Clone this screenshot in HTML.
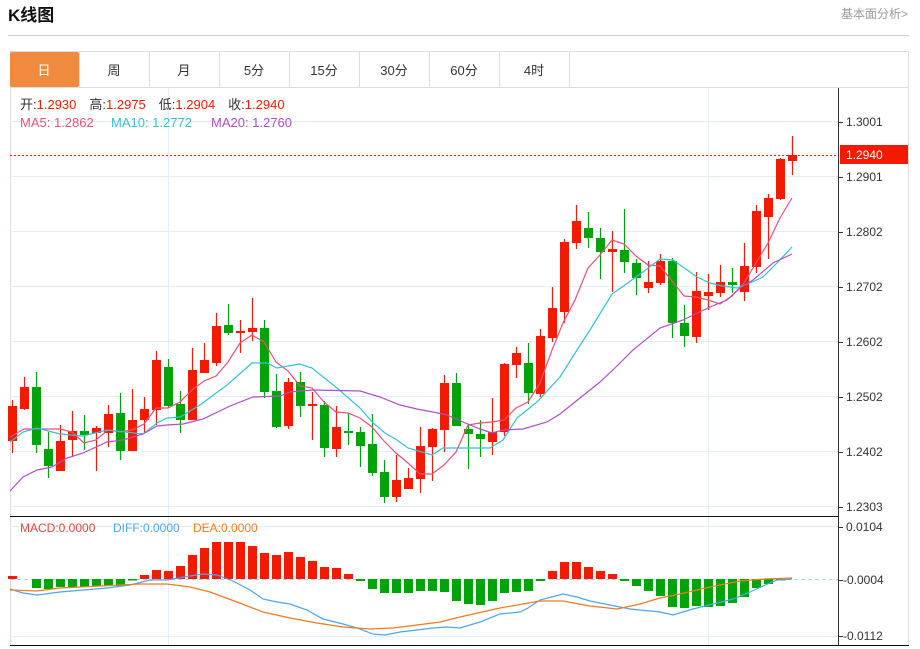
<!DOCTYPE html>
<html><head><meta charset="utf-8"><style>
body{margin:0;background:#fff;width:920px;height:649px;overflow:hidden;font-family:"Liberation Sans","Noto Sans CJK SC",sans-serif}
</style></head><body>
<svg id="s" width="920" height="649" xmlns="http://www.w3.org/2000/svg" style="position:absolute;left:0;top:0" font-family="Liberation Sans, Noto Sans CJK SC, sans-serif">
<text x="8" y="21" font-size="17" font-weight="bold" fill="#111">K线图</text>
<text x="841" y="18" font-size="12" fill="#999">基本面分析&gt;</text>
<line x1="8" y1="35.5" x2="909" y2="35.5" stroke="#ccc"/>
<rect x="10.5" y="51.5" width="898" height="594" fill="none" stroke="#ddd"/>
<line x1="10" y1="87.5" x2="909" y2="87.5" stroke="#ddd"/>
<rect x="10" y="52" width="69" height="35" fill="#f08a3e" rx="2"/>
<g stroke="#ddd"><line x1="79.5" y1="52" x2="79.5" y2="87"/><line x1="149.5" y1="52" x2="149.5" y2="87"/><line x1="219.5" y1="52" x2="219.5" y2="87"/><line x1="289.5" y1="52" x2="289.5" y2="87"/><line x1="359.5" y1="52" x2="359.5" y2="87"/><line x1="429.5" y1="52" x2="429.5" y2="87"/><line x1="499.5" y1="52" x2="499.5" y2="87"/><line x1="569.5" y1="52" x2="569.5" y2="87"/></g>
<g font-size="13" fill="#333" text-anchor="middle"><text x="44" y="75" fill="#fff">日</text><text x="114" y="75">周</text><text x="184" y="75">月</text><text x="254" y="75">5分</text><text x="324" y="75">15分</text><text x="394" y="75">30分</text><text x="464" y="75">60分</text><text x="534" y="75">4时</text></g>
<g id="grid" stroke="#e3edf4"></g>
<g id="c"></g>
<line x1="10" y1="155.5" x2="838" y2="155.5" stroke="#f21a00" stroke-dasharray="2,2"/>
<line x1="838.5" y1="88" x2="838.5" y2="646" stroke="#333"/>
<line x1="10" y1="516.5" x2="838" y2="516.5" stroke="#111"/>
<line x1="10" y1="645.5" x2="909" y2="645.5" stroke="#111"/>
<rect x="840" y="145" width="68" height="19" fill="#f21a00"/>
<g font-size="12" fill="#333" id="ax"></g>
<text x="846" y="159" font-size="12" fill="#fff">1.2940</text>
<g font-size="13"><text x="20" y="109" fill="#333">开:<tspan fill="#f21a00">1.2930</tspan><tspan dx="13">高:</tspan><tspan fill="#f21a00">1.2975</tspan><tspan dx="13">低:</tspan><tspan fill="#f21a00">1.2904</tspan><tspan dx="13">收:</tspan><tspan fill="#f21a00">1.2940</tspan></text>
<text x="20" y="127" fill="#ec4f7c">MA5: 1.2862</text><text x="111" y="127" fill="#34c0d8">MA10: 1.2772</text><text x="211" y="127" fill="#b14fc4">MA20: 1.2760</text></g>
<g font-size="12"><text x="20" y="532" fill="#e8433c">MACD:0.0000</text><text x="113" y="532" fill="#4aa6f0">DIFF:0.0000</text><text x="193" y="532" fill="#f07a20">DEA:0.0000</text></g>
</svg>
<script>
var NS="http://www.w3.org/2000/svg",s=document.getElementById('s');
function el(p,t,a){var e=document.createElementNS(NS,t);for(var k in a)e.setAttribute(k,a[k]);p.appendChild(e);return e;}
var g=document.getElementById('grid');
[121.5,176.5,231.5,286.5,341.5,396.5,451.5,506.5,526.5,636.5].forEach(function(y){el(g,'line',{x1:10,x2:838,y1:y,y2:y});});
[168.5,708.5].forEach(function(x){el(g,'line',{x1:x,x2:x,y1:88,y2:645});});
el(g,'line',{x1:10,x2:838,y1:579.5,y2:579.5,stroke:'#a9d8ee','stroke-dasharray':'4,3'});
var ax=document.getElementById('ax');
[[122,'1.3001'],[177,'1.2901'],[232,'1.2802'],[287,'1.2702'],[342,'1.2602'],[397,'1.2502'],[452,'1.2402'],[507,'1.2303'],[527,'0.0104'],[580,'-0.0004'],[636,'-0.0112']].forEach(function(a){
 el(ax,'line',{x1:838,x2:843,y1:a[0]+.5,y2:a[0]+.5,stroke:'#333'});var t=el(ax,'text',{x:a[1][0]=='-'?843:846,y:a[0]+4});t.textContent=a[1];});
var C=document.getElementById('c');
var K=[[441,406,400,453],[409,387,377,410],[387,445,372,453],[449,466,432,478],[471,441,425,471],[440,431,411,457],[431,435,415,450],[433,428,426,471],[433,414,405,447],[413,451,393,460],[451,420,389,451],[420,409,397,433],[410,360,351,425],[367,406,359,408],[404,420,391,433],[420,370,348,420],[373,360,343,373],[363,326,313,366],[325,333,304,335],[333,331,320,353],[332,328,298,341],[328,392,320,398],[391,427,374,428],[426,382,378,429],[382,406,372,417],[406,404,392,440],[405,448,401,457],[449,427,406,457],[431,433,413,445],[432,446,427,467],[444,473,414,476],[472,497,460,503],[497,480,455,502],[489,478,468,489],[479,446,427,493],[447,429,428,481],[430,383,375,452],[383,426,373,426],[429,434,425,469],[434,439,420,457],[442,432,398,455],[432,364,363,436],[365,353,347,378],[363,393,343,404],[394,336,329,397],[338,308,287,342],[312,242,239,323],[243,221,205,249],[228,238,212,248],[238,252,228,279],[252,249,231,292],[250,262,209,273],[263,278,259,295],[288,282,261,293],[283,261,254,285],[261,323,258,338],[323,336,305,347],[337,291,272,343],[296,292,274,310],[293,282,265,297],[282,285,268,293],[292,266,243,301],[267,211,205,273],[217,198,194,259],[199,159,158,200],[161,155,136,175]];
var M=[576,579,588,589,587,587,587,586,586,586,580.5,575,570,571,566,555,548,542,542,542,546,553,555,552,557,561,567,568,574,581,589,593,593,593,591,591,592,601,604,605,601,593,592,591,581,571,562,562,567,571,574,581,586,591,596,607,608,606,607,606,603,597,588,584,580.5,579];
K.forEach(function(k,i){var x=12.5+12*i,up=k[1]<=k[0],col=up?'#f21a00':'#00a40a';
 el(C,'line',{x1:x,x2:x,y1:k[2],y2:k[3],stroke:col,'stroke-width':1.2});
 var t=Math.min(k[0],k[1]),h=Math.max(2,Math.abs(k[0]-k[1]));el(C,'rect',{x:x-4.5,y:t,width:9,height:h,fill:col});
 var m=M[i];if(Math.abs(m-579)>0.4){var mc=m<579?'#f21a00':'#00a40a';el(C,'rect',{x:x-4.5,y:Math.min(m,579),width:9,height:Math.abs(m-579),fill:mc});}
});
function pl(pts,c){el(C,'polyline',{points:pts,fill:'none',stroke:c,'stroke-width':1.2});}
pl("10,437 24,429 60,429 72,432 84,443 96,440 108,430 120,432 132,430 144,424 156,408 168,408 180,402 192,390 204,381 216,376 228,362 240,343 252,335 264,342 276,362 288,371 300,386 312,388 324,402 336,412 348,413 360,418 372,427 384,441 396,453 408,463 420,474 432,474 444,465 456,452 468,425 480,423 492,422 504,420 516,408 528,402 540,383 552,350 563,323 575,300 588,268 600,255 612,240 624,244 636,256 648,265 660,266 672,281 684,296 696,297 708,300 720,304 732,296 744,283 756,263 768,243 780,218 792,198",'#ec4f7c');
pl("10,442 23,432 37,428 60,434 83,436 107,430 143,434 157,423 167,418 180,417 200,405 227,385 252,363 267,363 277,368 300,364 312,368 337,388 360,408 373,423 385,433 397,440 408,448 432,455 443,448 457,448 490,448 503,440 517,418 537,402 560,377 577,350 590,330 612,294 625,285 647,269 660,259 673,260 697,277 710,283 723,286 737,288 750,283 763,277 777,263 792,247",'#34c0d8');
pl("10,491 23,477 37,470 52,467 67,458 83,453 107,442 123,440 143,434 157,426 167,425 183,424 203,419 230,406 253,397 280,396 290,392 313,390 360,391 380,397 400,405 417,409 433,412 447,415 463,422 480,429 492,433 503,430 523,429 547,422 560,414 580,398 600,382 617,366 633,350 660,328 683,320 710,307 727,300 740,288 753,280 773,263 792,254",'#b14fc4');
pl("10,589 23,593 37,595 60,592 107,588 130,585 150,580 167,580 190,576 203,574 217,575 233,581 250,590 263,599 277,602 290,604 307,610 323,619 343,624 357,628 373,634 385,635 400,632 417,630 433,628 447,627 460,628 480,622 500,614 520,612 528,608 540,600 563,594 577,597 590,601 610,605 630,609 660,612 673,615 693,609 717,603 733,599 750,592 763,586 777,580 792,579",'#4aa6f0');
pl("10,590 37,591 60,588 100,586 140,584 167,584 190,587 210,592 237,602 263,612 290,618 317,623 343,627 370,629 393,628 417,625 440,622 460,617 500,608 540,601 563,601 590,606 617,609 640,604 660,598 680,594 710,587 740,581 765,579 792,578",'#f07a20');
</script>
</body></html>
